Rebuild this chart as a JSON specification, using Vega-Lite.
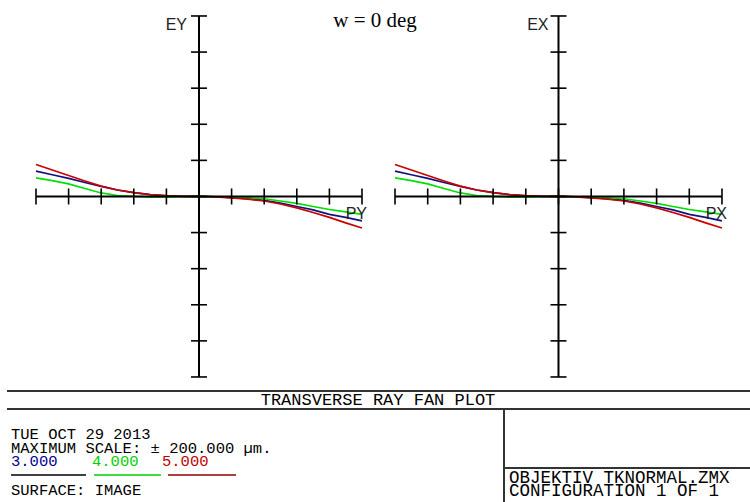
{
  "$schema": "https://vega.github.io/schema/vega-lite/v6.json",
  "padding": 0,
  "spacing": 0,
  "background": "white",
  "config": {"view": {"stroke": null}, "concat": {"spacing": 0}},
  "datasets": {
    "fan": [
      {"p": -1.0, "um": 28.0, "wave": "3.000"}, {"p": -0.9, "um": 24.1, "wave": "3.000"}, {"p": -0.8, "um": 20.1, "wave": "3.000"}, {"p": -0.7, "um": 15.5, "wave": "3.000"}, {"p": -0.6, "um": 11.1, "wave": "3.000"}, {"p": -0.5, "um": 7.2, "wave": "3.000"}, {"p": -0.4, "um": 4.2, "wave": "3.000"}, {"p": -0.3, "um": 2.0, "wave": "3.000"}, {"p": -0.2, "um": 0.8, "wave": "3.000"}, {"p": -0.1, "um": 0.2, "wave": "3.000"}, {"p": 0.0, "um": 0.0, "wave": "3.000"}, {"p": 0.1, "um": -0.3, "wave": "3.000"}, {"p": 0.2, "um": -1.3, "wave": "3.000"}, {"p": 0.3, "um": -2.4, "wave": "3.000"}, {"p": 0.4, "um": -4.4, "wave": "3.000"}, {"p": 0.5, "um": -7.2, "wave": "3.000"}, {"p": 0.6, "um": -11.1, "wave": "3.000"}, {"p": 0.7, "um": -14.9, "wave": "3.000"}, {"p": 0.8, "um": -19.9, "wave": "3.000"}, {"p": 0.9, "um": -23.2, "wave": "3.000"}, {"p": 1.0, "um": -27.1, "wave": "3.000"},
      {"p": -1.0, "um": 20.7, "wave": "4.000"}, {"p": -0.9, "um": 17.5, "wave": "4.000"}, {"p": -0.8, "um": 14.0, "wave": "4.000"}, {"p": -0.7, "um": 8.8, "wave": "4.000"}, {"p": -0.6, "um": 3.9, "wave": "4.000"}, {"p": -0.5, "um": 1.1, "wave": "4.000"}, {"p": -0.4, "um": 0.0, "wave": "4.000"}, {"p": -0.3, "um": -0.8, "wave": "4.000"}, {"p": -0.2, "um": -0.8, "wave": "4.000"}, {"p": -0.1, "um": -0.3, "wave": "4.000"}, {"p": 0.0, "um": 0.0, "wave": "4.000"}, {"p": 0.1, "um": -0.3, "wave": "4.000"}, {"p": 0.2, "um": -0.9, "wave": "4.000"}, {"p": 0.3, "um": -1.4, "wave": "4.000"}, {"p": 0.4, "um": -2.5, "wave": "4.000"}, {"p": 0.5, "um": -5.0, "wave": "4.000"}, {"p": 0.6, "um": -7.7, "wave": "4.000"}, {"p": 0.7, "um": -11.1, "wave": "4.000"}, {"p": 0.8, "um": -14.4, "wave": "4.000"}, {"p": 0.9, "um": -17.1, "wave": "4.000"}, {"p": 1.0, "um": -19.9, "wave": "4.000"},
      {"p": -1.0, "um": 35.4, "wave": "5.000"}, {"p": -0.9, "um": 29.3, "wave": "5.000"}, {"p": -0.8, "um": 23.2, "wave": "5.000"}, {"p": -0.7, "um": 17.1, "wave": "5.000"}, {"p": -0.6, "um": 11.4, "wave": "5.000"}, {"p": -0.5, "um": 7.2, "wave": "5.000"}, {"p": -0.4, "um": 4.2, "wave": "5.000"}, {"p": -0.3, "um": 2.2, "wave": "5.000"}, {"p": -0.2, "um": 0.9, "wave": "5.000"}, {"p": -0.1, "um": 0.2, "wave": "5.000"}, {"p": 0.0, "um": 0.0, "wave": "5.000"}, {"p": 0.1, "um": -0.4, "wave": "5.000"}, {"p": 0.2, "um": -1.7, "wave": "5.000"}, {"p": 0.3, "um": -3.1, "wave": "5.000"}, {"p": 0.4, "um": -5.0, "wave": "5.000"}, {"p": 0.5, "um": -8.3, "wave": "5.000"}, {"p": 0.6, "um": -12.7, "wave": "5.000"}, {"p": 0.7, "um": -17.7, "wave": "5.000"}, {"p": 0.8, "um": -23.2, "wave": "5.000"}, {"p": 0.9, "um": -29.3, "wave": "5.000"}, {"p": 1.0, "um": -35.0, "wave": "5.000"}
    ],
    "pticks": [{"p": -1}, {"p": -0.8}, {"p": -0.6}, {"p": -0.4}, {"p": -0.2}, {"p": 0}, {"p": 0.2}, {"p": 0.4}, {"p": 0.6}, {"p": 0.8}, {"p": 1}],
    "eticks": [{"e": -200}, {"e": -160}, {"e": -120}, {"e": -80}, {"e": -40}, {"e": 0}, {"e": 40}, {"e": 80}, {"e": 120}, {"e": 160}, {"e": 200}],
    "one": [{}]
  },
  "vconcat": [
    {
      "spacing": 0,
      "bounds": "flush",
      "hconcat": [
        {
          "width": 375,
          "height": 385,
          "data": {"name": "one"},
          "layer": [
            {
              "data": {"name": "fan"},
              "mark": {"type": "line", "strokeWidth": 1.7, "clip": false},
              "encoding": {
                "x": {"field": "p", "type": "quantitative", "scale": {"domain": [-1.22086, 1.07975], "nice": false, "zero": false}, "axis": null},
                "y": {"field": "um", "type": "quantitative", "scale": {"domain": [-208.9, 217.7], "nice": false, "zero": false}, "axis": null},
                "color": {"field": "wave", "type": "nominal", "scale": {"domain": ["3.000", "4.000", "5.000"], "range": ["#12127e", "#00e000", "#c80000"]}, "legend": null},
                "order": {"field": "p", "type": "quantitative"}
              }
            },
            {
              "mark": {"type": "rule", "color": "black", "strokeWidth": 2},
              "encoding": {"x": {"datum": -1}, "x2": {"datum": 1}, "y": {"datum": 0}}
            },
            {
              "mark": {"type": "rule", "color": "black", "strokeWidth": 2},
              "encoding": {"x": {"datum": 0}, "y": {"datum": -200}, "y2": {"datum": 200}}
            },
            {
              "data": {"name": "pticks"},
              "mark": {"type": "tick", "orient": "vertical", "size": 16, "thickness": 1.6, "color": "black", "opacity": 1},
              "encoding": {"x": {"field": "p", "type": "quantitative"}, "y": {"datum": 0}}
            },
            {
              "data": {"name": "eticks"},
              "mark": {"type": "tick", "orient": "horizontal", "size": 16, "thickness": 1.6, "color": "black", "opacity": 1},
              "encoding": {"x": {"datum": 0}, "y": {"field": "e", "type": "quantitative"}}
            },
            {
              "mark": {"type": "text", "text": "EY", "font": "Liberation Sans", "fontSize": 16, "align": "right", "baseline": "top", "dx": -12, "dy": 1, "color": "#222"},
              "encoding": {"x": {"datum": 0}, "y": {"datum": 200}}
            },
            {
              "mark": {"type": "text", "text": "PY", "font": "Liberation Sans", "fontSize": 16, "align": "right", "baseline": "top", "dx": 5, "dy": 10, "color": "#222"},
              "encoding": {"x": {"datum": 1}, "y": {"datum": 0}}
            },
            {
              "mark": {"type": "text", "text": "w = 0 deg", "font": "Liberation Serif", "fontSize": 21, "align": "center", "baseline": "alphabetic", "dy": 11, "color": "black"},
              "encoding": {"x": {"datum": 1.08}, "y": {"datum": 200}}
            }
          ]
        },
        {
          "width": 375,
          "height": 385,
          "data": {"name": "one"},
          "layer": [
            {
              "data": {"name": "fan"},
              "mark": {"type": "line", "strokeWidth": 1.7, "clip": false},
              "encoding": {
                "x": {"field": "p", "type": "quantitative", "scale": {"domain": [-1.1223, 1.1713], "nice": false, "zero": false}, "axis": null},
                "y": {"field": "um", "type": "quantitative", "scale": {"domain": [-208.9, 217.7], "nice": false, "zero": false}, "axis": null},
                "color": {"field": "wave", "type": "nominal", "scale": {"domain": ["3.000", "4.000", "5.000"], "range": ["#12127e", "#00e000", "#c80000"]}, "legend": null},
                "order": {"field": "p", "type": "quantitative"}
              }
            },
            {
              "mark": {"type": "rule", "color": "black", "strokeWidth": 2},
              "encoding": {"x": {"datum": -1}, "x2": {"datum": 1}, "y": {"datum": 0}}
            },
            {
              "mark": {"type": "rule", "color": "black", "strokeWidth": 2},
              "encoding": {"x": {"datum": 0}, "y": {"datum": -200}, "y2": {"datum": 200}}
            },
            {
              "data": {"name": "pticks"},
              "mark": {"type": "tick", "orient": "vertical", "size": 16, "thickness": 1.6, "color": "black", "opacity": 1},
              "encoding": {"x": {"field": "p", "type": "quantitative"}, "y": {"datum": 0}}
            },
            {
              "data": {"name": "eticks"},
              "mark": {"type": "tick", "orient": "horizontal", "size": 16, "thickness": 1.6, "color": "black", "opacity": 1},
              "encoding": {"x": {"datum": 0}, "y": {"field": "e", "type": "quantitative"}}
            },
            {
              "mark": {"type": "text", "text": "EX", "font": "Liberation Sans", "fontSize": 16, "align": "right", "baseline": "top", "dx": -10, "dy": 1, "color": "#222"},
              "encoding": {"x": {"datum": 0}, "y": {"datum": 200}}
            },
            {
              "mark": {"type": "text", "text": "PX", "font": "Liberation Sans", "fontSize": 16, "align": "right", "baseline": "top", "dx": 5, "dy": 10, "color": "#222"},
              "encoding": {"x": {"datum": 1}, "y": {"datum": 0}}
            }
          ]
        }
      ]
    },
    {
      "width": 750,
      "height": 117,
      "data": {"name": "one"},
      "layer": [
        {
          "mark": {"type": "rule", "color": "#333", "strokeWidth": 2},
          "encoding": {
            "x": {"datum": 7, "scale": {"domain": [0, 750], "nice": false, "zero": false}, "axis": null},
            "x2": {"datum": 750},
            "y": {"datum": 6, "scale": {"domain": [117, 0], "nice": false, "zero": false}, "axis": null}
          }
        },
        {
          "mark": {"type": "rule", "color": "#333", "strokeWidth": 2},
          "encoding": {"x": {"datum": 7}, "x2": {"datum": 750}, "y": {"datum": 24}}
        },
        {
          "mark": {"type": "rule", "color": "#333", "strokeWidth": 2},
          "encoding": {"x": {"datum": 504}, "y": {"datum": 24}, "y2": {"datum": 117}}
        },
        {
          "mark": {"type": "rule", "color": "#333", "strokeWidth": 2},
          "encoding": {"x": {"datum": 504}, "x2": {"datum": 750}, "y": {"datum": 83}}
        },
        {
          "mark": {"type": "text", "text": "TRANSVERSE RAY FAN PLOT", "font": "Liberation Mono", "fontSize": 17, "align": "center", "baseline": "middle", "color": "black"},
          "encoding": {"x": {"datum": 378}, "y": {"datum": 15}}
        },
        {
          "mark": {"type": "text", "text": "TUE OCT 29 2013", "font": "Liberation Mono", "fontSize": 15.5, "align": "left", "baseline": "middle", "color": "black"},
          "encoding": {"x": {"datum": 11}, "y": {"datum": 49}}
        },
        {
          "mark": {"type": "text", "text": "MAXIMUM SCALE: ± 200.000 µm.", "font": "Liberation Mono", "fontSize": 15.5, "align": "left", "baseline": "middle", "color": "black"},
          "encoding": {"x": {"datum": 11}, "y": {"datum": 62.5}}
        },
        {
          "mark": {"type": "text", "text": "3.000", "font": "Liberation Mono", "fontSize": 15.5, "align": "left", "baseline": "middle", "color": "#000090"},
          "encoding": {"x": {"datum": 11}, "y": {"datum": 76}}
        },
        {
          "mark": {"type": "text", "text": "4.000", "font": "Liberation Mono", "fontSize": 15.5, "align": "left", "baseline": "middle", "color": "#00d000"},
          "encoding": {"x": {"datum": 92}, "y": {"datum": 76}}
        },
        {
          "mark": {"type": "text", "text": "5.000", "font": "Liberation Mono", "fontSize": 15.5, "align": "left", "baseline": "middle", "color": "#c00000"},
          "encoding": {"x": {"datum": 162}, "y": {"datum": 76}}
        },
        {
          "mark": {"type": "rule", "color": "black", "strokeWidth": 1.5},
          "encoding": {"x": {"datum": 11}, "x2": {"datum": 86}, "y": {"datum": 90}}
        },
        {
          "mark": {"type": "rule", "color": "#00d000", "strokeWidth": 1.5},
          "encoding": {"x": {"datum": 94}, "x2": {"datum": 161}, "y": {"datum": 90}}
        },
        {
          "mark": {"type": "rule", "color": "#900000", "strokeWidth": 1.5},
          "encoding": {"x": {"datum": 168}, "x2": {"datum": 236}, "y": {"datum": 90}}
        },
        {
          "mark": {"type": "text", "text": "SURFACE: IMAGE", "font": "Liberation Mono", "fontSize": 15.5, "align": "left", "baseline": "middle", "color": "black"},
          "encoding": {"x": {"datum": 11}, "y": {"datum": 105}}
        },
        {
          "mark": {"type": "text", "text": "OBJEKTIV TKNORMAL.ZMX", "font": "Liberation Mono", "fontSize": 17.5, "align": "left", "baseline": "middle", "color": "black"},
          "encoding": {"x": {"datum": 509}, "y": {"datum": 92.5}}
        },
        {
          "mark": {"type": "text", "text": "CONFIGURATION 1 OF 1", "font": "Liberation Mono", "fontSize": 17.5, "align": "left", "baseline": "middle", "color": "black"},
          "encoding": {"x": {"datum": 509}, "y": {"datum": 106}}
        }
      ]
    }
  ]
}
